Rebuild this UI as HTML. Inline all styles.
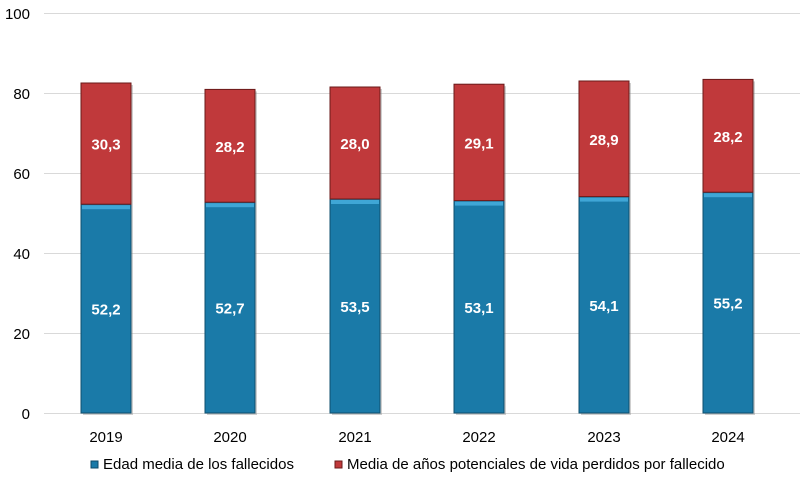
<!DOCTYPE html>
<html><head><style>
html,body{margin:0;padding:0;background:#fff;}
svg{display:block;font-family:"Liberation Sans",Calibri,sans-serif;}
</style></head><body>
<svg width="806" height="486" viewBox="0 0 806 486" xmlns="http://www.w3.org/2000/svg">
<g stroke="#d9d9d9" stroke-width="1">
<line x1="44" y1="13.5" x2="800" y2="13.5"/>
<line x1="44" y1="93.5" x2="800" y2="93.5"/>
<line x1="44" y1="173.5" x2="800" y2="173.5"/>
<line x1="44" y1="253.5" x2="800" y2="253.5"/>
<line x1="44" y1="333.5" x2="800" y2="333.5"/>
<line x1="44" y1="413.5" x2="800" y2="413.5"/>
</g>
<g font-size="15" fill="#000" text-anchor="end">
<text x="30" y="19">100</text>
<text x="30" y="99">80</text>
<text x="30" y="179">60</text>
<text x="30" y="259">40</text>
<text x="30" y="339">20</text>
<text x="30" y="419">0</text>
</g>
<g fill="#888" opacity="0.4">
<rect x="83" y="85" width="50" height="330"/>
<rect x="207" y="91.4" width="50" height="323.6"/>
<rect x="332" y="89" width="50" height="326"/>
<rect x="456" y="86.2" width="50" height="328.8"/>
<rect x="581" y="83" width="50" height="332"/>
<rect x="705" y="81.4" width="50" height="333.6"/>
</g>
<g fill="#1a7aa8" stroke="#0f4f6e" stroke-width="1">
<rect x="81" y="204.2" width="50" height="208.8"/>
<rect x="205" y="202.2" width="50" height="210.8"/>
<rect x="330" y="199" width="50" height="214"/>
<rect x="454" y="200.6" width="50" height="212.4"/>
<rect x="579" y="196.6" width="50" height="216.4"/>
<rect x="703" y="192.2" width="50" height="220.8"/>
</g>
<g fill="#3fa6d6">
<rect x="82" y="205.2" width="48" height="4"/>
<rect x="206" y="203.2" width="48" height="4"/>
<rect x="331" y="200" width="48" height="4"/>
<rect x="455" y="201.6" width="48" height="4"/>
<rect x="580" y="197.6" width="48" height="4"/>
<rect x="704" y="193.2" width="48" height="4"/>
</g>
<g fill="#c0393b" stroke="#6a1a1a" stroke-width="1">
<rect x="81" y="83" width="50" height="121.2"/>
<rect x="205" y="89.4" width="50" height="112.8"/>
<rect x="330" y="87" width="50" height="112"/>
<rect x="454" y="84.2" width="50" height="116.4"/>
<rect x="579" y="81" width="50" height="115.6"/>
<rect x="703" y="79.4" width="50" height="112.8"/>
</g>
<g fill="#fff" font-size="15" font-weight="bold" text-anchor="middle">
<text x="106" y="314.6">52,2</text>
<text x="230" y="313.6">52,7</text>
<text x="355" y="312">53,5</text>
<text x="479" y="312.8">53,1</text>
<text x="604" y="310.8">54,1</text>
<text x="728" y="308.6">55,2</text>
<text x="106" y="149.6">30,3</text>
<text x="230" y="151.8">28,2</text>
<text x="355" y="149">28,0</text>
<text x="479" y="148.4">29,1</text>
<text x="604" y="144.8">28,9</text>
<text x="728" y="141.8">28,2</text>
</g>
<g font-size="15" text-anchor="middle" fill="#000">
<text x="106" y="442">2019</text>
<text x="230" y="442">2020</text>
<text x="355" y="442">2021</text>
<text x="479" y="442">2022</text>
<text x="604" y="442">2023</text>
<text x="728" y="442">2024</text>
</g>
<rect x="91" y="461" width="7" height="7" fill="#1a7aa8" stroke="#0d4a68"/>
<text x="103" y="469" font-size="15">Edad media de los fallecidos</text>
<rect x="335" y="461" width="7" height="7" fill="#c0393b" stroke="#6a1a1a"/>
<text x="347" y="469" font-size="15">Media de años potenciales de vida perdidos por fallecido</text>
</svg>
</body></html>
